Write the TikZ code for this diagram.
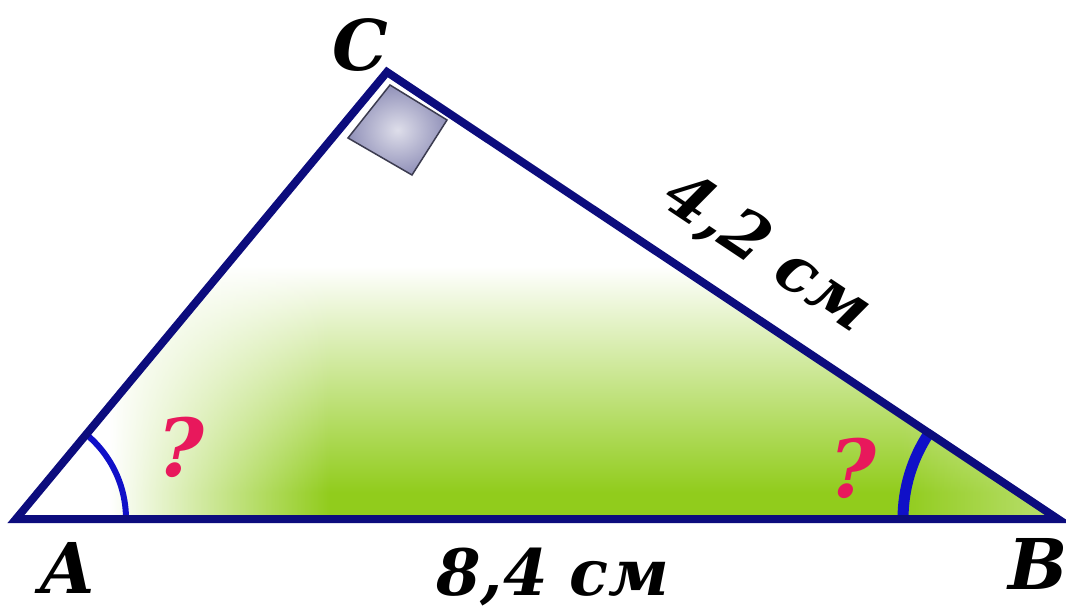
\documentclass[tikz,border=0pt]{standalone}
\usepackage{fontspec}
\setmainfont{DejaVu Serif}
\usetikzlibrary{fadings,calc}
\definecolor{edgeblue}{RGB}{12,12,125}
\definecolor{arcblue}{RGB}{16,16,200}
\definecolor{leafgreen}{RGB}{145,204,28}
\definecolor{qpink}{RGB}{232,24,92}
\definecolor{sqfill}{RGB}{145,145,185}
\definecolor{sqedge}{RGB}{60,60,80}
\tikzfading[name=fadeleftopaque, left color=transparent!0, right color=transparent!100]
\tikzfading[name=faderightopaque, left color=transparent!100, right color=transparent!0]
\tikzset{
  edge/.style={draw=edgeblue, line width=8pt, line join=miter},
  anglemark/.style={draw=arcblue},
  vlabel/.style={font=\fontsize{70}{70}\selectfont\bfseries\itshape, text=black, inner sep=0pt},
  len/.style={font=\fontsize{64}{64}\selectfont\bfseries\itshape, text=black, inner sep=0pt},
  qmark/.style={font=\fontsize{80}{80}\selectfont\bfseries\itshape, text=qpink, inner sep=0pt}
}
\begin{document}
\begin{tikzpicture}[x=1pt,y=1pt]
\useasboundingbox (0,0) rectangle (1066,611);
\coordinate (A) at (16,92);
\coordinate (B) at (1058,92);
\coordinate (C) at (387,539);
% green gradient fill
\begin{scope}
  \clip (A) -- (B) -- (C) -- cycle;
  \fill[white] (0,0) rectangle (1066,611);
  \shade[top color=white, bottom color=leafgreen] (0,345) rectangle (1066,118);
  \fill[leafgreen] (0,0) rectangle (1066,118);
  \fill[white, path fading=fadeleftopaque] (110,0) rectangle (330,611);
  \fill[white] (0,0) rectangle (110,611);
  \fill[white, opacity=0.4, path fading=faderightopaque] (900,0) rectangle (1066,611);
\end{scope}
% right angle square
\coordinate (S1) at (348,473);
\coordinate (S2) at (390,526);
\coordinate (S3) at (447,491);
\coordinate (S4) at (412,436);
\path[inner color=white!70!sqfill, outer color=sqfill] (S1) -- (S2) -- (S3) -- (S4) -- cycle;
\draw[sqedge, line width=1.5pt] (S1) -- (S2) -- (S3) -- (S4) -- cycle;
% angle marks
\draw[anglemark, line width=6pt] ($(A)+(110,0)$) arc[start angle=0, end angle=50.3, radius=110];
\draw[anglemark, line width=11pt] ($(B)+(-155,0)$) arc[start angle=180, end angle=146.3, radius=155];
% triangle
\draw[edge] (A) -- (B) -- (C) -- cycle;
% labels
\node[vlabel] (lC) at (360,566) {C};
\node[vlabel] (lA) at (68,43) {A};
\node[vlabel] (lB) at (1038,47) {B};
\node[len] (lAB) at (553,34) {8,4 см};
\node[len, rotate=-33.7] (lCB) at (767,357) {4,2 см};
\node[qmark] (qA) at (181,164) {?};
\node[qmark] (qB) at (853,143) {?};
\end{tikzpicture}
\end{document}
